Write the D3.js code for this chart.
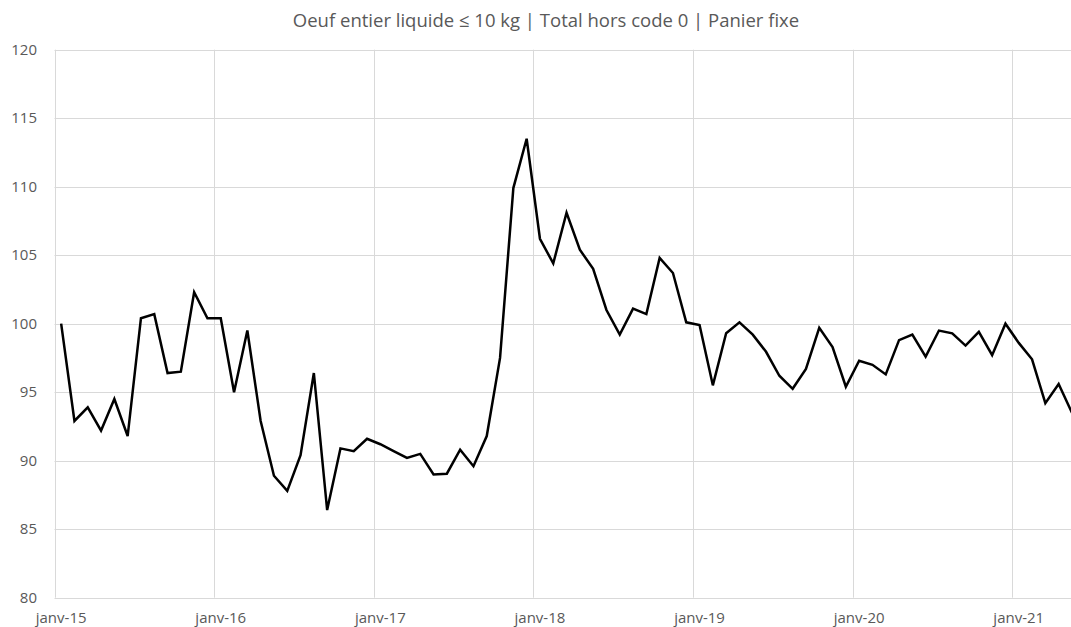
<!DOCTYPE html>
<html>
<head>
<meta charset="utf-8">
<script src="https://cdn.jsdelivr.net/npm/d3@7"></script>
<style>
  html, body { margin: 0; padding: 0; background: #fff; }
  svg { display: block; }
  text { font-family: "Open Sans", sans-serif; fill: #595959; }
</style>
</head>
<body>
<svg id="chart" width="1071" height="627"></svg>
<script>
const title = "Oeuf entier liquide \u2264 10 kg | Total hors code 0 | Panier fixe";
const years = ["15","16","17","18","19","20","21"];
const monthNames = ["janv","févr","mars","avr","mai","juin","juil","août","sept","oct","nov","déc"];
const months = [];
years.forEach(y => monthNames.forEach(m => months.push(m + "-" + y)));
const values = [
  100.0, 92.9, 93.9, 92.2, 94.5, 91.8, 100.4, 100.7, 96.4, 96.5, 102.3, 100.4,
  100.4, 95.0, 99.5, 92.9, 88.9, 87.8, 90.4, 96.4, 86.4, 90.9, 90.7, 91.6,
  91.2, 90.7, 90.2, 90.5, 89.0, 89.05, 90.8, 89.6, 91.8, 97.5, 109.9, 113.5,
  106.2, 104.4, 108.1, 105.4, 104.0, 101.0, 99.2, 101.1, 100.7, 104.8, 103.7, 100.1,
  99.9, 95.5, 99.3, 100.1, 99.2, 97.95, 96.2, 95.25, 96.7, 99.7, 98.3, 95.4,
  97.3, 97.0, 96.3, 98.8, 99.2, 97.6, 99.5, 99.3, 98.4, 99.4, 97.7, 100.0,
  98.6, 97.4, 94.2, 95.6, 93.5
];
const categories = months.slice(0, values.length);
const yTicks = [80, 85, 90, 95, 100, 105, 110, 115, 120];
const xTickLabels = ["janv-15","janv-16","janv-17","janv-18","janv-19","janv-20","janv-21"];

const W = 1071, H = 627;
const left = 54.5, step = 13.30;
const svg = d3.select("#chart");

const x = d3.scaleBand().domain(categories).range([left, left + categories.length * step]).paddingInner(0).paddingOuter(0);
const y = d3.scaleLinear().domain([80, 120]).range([597.7, 49.7]);

const grid = svg.append("g");
grid.selectAll("line.h").data(yTicks).enter().append("line")
  .attr("x1", left).attr("x2", W)
  .attr("y1", d => Math.round(y(d)) + 0.5).attr("y2", d => Math.round(y(d)) + 0.5)
  .attr("stroke", "#d9d9d9").attr("stroke-width", 1);
grid.selectAll("line.v").data(xTickLabels).enter().append("line")
  .attr("x1", d => Math.round(x(d)) + 0.5).attr("x2", d => Math.round(x(d)) + 0.5)
  .attr("y1", y(120)).attr("y2", y(80))
  .attr("stroke", "#d9d9d9").attr("stroke-width", 1);

svg.append("g").selectAll("text").data(yTicks).enter().append("text")
  .attr("x", 37).attr("y", d => y(d)).attr("dy", "0.35em")
  .attr("text-anchor", "end").style("font-size", "15px")
  .text(d => d);

svg.append("g").selectAll("text").data(xTickLabels).enter().append("text")
  .attr("x", d => x(d) + x.bandwidth() / 2).attr("y", 623)
  .attr("text-anchor", "middle").style("font-size", "15px")
  .text(d => d);

svg.append("clipPath").attr("id", "clip").append("rect")
  .attr("x", 0).attr("y", 0).attr("width", W).attr("height", H);

const line = d3.line()
  .x((d, i) => x(categories[i]) + x.bandwidth() / 2)
  .y(d => y(d));
svg.append("path").datum(values)
  .attr("clip-path", "url(#clip)")
  .attr("d", line).attr("fill", "none")
  .attr("stroke", "#000").attr("stroke-width", 2.5)
  .attr("stroke-linejoin", "miter");

svg.append("text").attr("x", 546).attr("y", 27)
  .attr("text-anchor", "middle").style("font-size", "18.5px")
  .text(title);
</script>
</body>
</html>
